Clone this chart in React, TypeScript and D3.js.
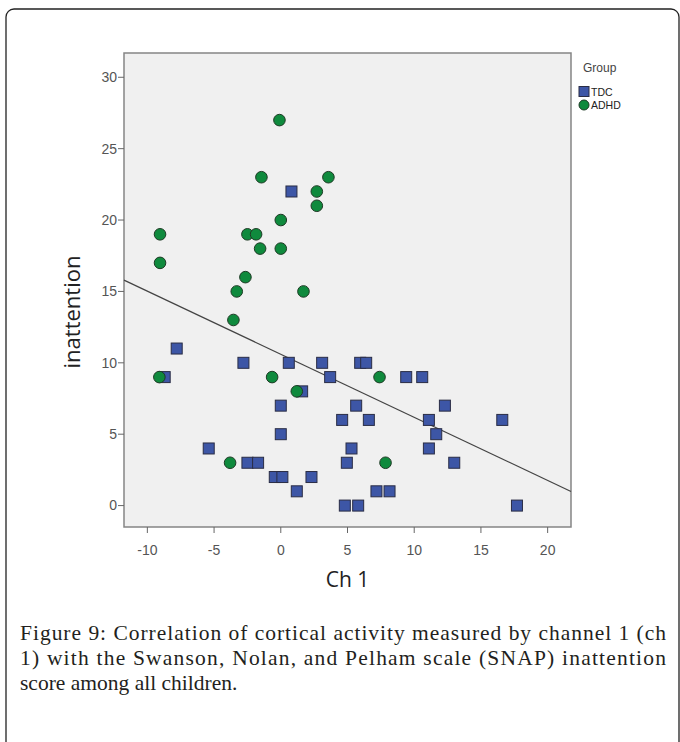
import React from "react";
import * as d3 from "d3";

const xTicks = [-10, -5, 0, 5, 10, 15, 20];
const yTicks = [0, 5, 10, 15, 20, 25, 30];

const tdcX = [0.8, -7.8, -2.8, 0.6, 3.1, 5.95, 6.4, -8.7, 3.7, 9.4, 10.6, 1.6, 0, 5.65, 12.3, 4.6, 6.6, 11.1, 16.6, 0, 11.65, -5.4, 5.3, 11.1, -2.5, -1.7, 4.95, 13.0, -0.45, 0.12, 2.3, 1.2, 7.17, 8.15, 4.8, 5.8, 17.7];
const tdcY = [22, 11, 10, 10, 10, 10, 10, 9, 9, 9, 9, 8, 7, 7, 7, 6, 6, 6, 6, 5, 5, 4, 4, 4, 3, 3, 3, 3, 2, 2, 2, 1, 1, 1, 0, 0, 0];

const adhdX = [-0.1, -1.45, 3.57, 2.7, 2.7, 0, -9.05, -2.5, -1.85, -1.55, 0, -9.05, -2.65, -3.3, 1.7, -3.55, -9.1, -0.65, 1.2, 7.4, -3.8, 7.85];
const adhdY = [27, 23, 23, 22, 21, 20, 19, 19, 19, 18, 18, 17, 16, 15, 15, 13, 9, 9, 8, 9, 3, 3];

const fitIntercept = 10.6;
const fitSlope = -0.442;

const groups = ["TDC", "ADHD"];

const captionLines = [
  "Figure 9: Correlation of cortical activity measured by channel 1 (ch",
  "1) with the Swanson, Nolan, and Pelham scale (SNAP) inattention",
  "score among all children.",
];

export default function App() {
  const W = 680, H = 742;
  const left = 124, right = 571, top = 53, bottom = 527;
  const x = d3.scaleLinear().domain([-11.75, 21.75]).range([left, right]);
  const y = d3.scaleLinear().domain([-1.5, 31.7]).range([bottom, top]);
  const blue = "#3d56a6";
  const green = "#0f8a3d";
  const sq = 11;
  const xd = x.domain();
  const line = d3.line<number>().x((v) => x(v)).y((v) => y(fitIntercept + fitSlope * v));
  const sans = "'Liberation Sans', Arial, sans-serif";
  return (
    <svg width={W} height={H} style={{ position: "absolute", left: 0, top: 0 }}>
      <rect x={0} y={0} width={W} height={H} fill="#fff" />
      <rect x={6} y={9} width={673} height={760} rx={8} fill="none" stroke="#222" strokeWidth={1.3} />
      <rect x={left} y={top} width={right - left} height={bottom - top} fill="#f0f0f0" stroke="#858585" strokeWidth={1.5} />
      {yTicks.map((t) => (
        <g key={"y" + t}>
          <line x1={left - 6} x2={left} y1={y(t)} y2={y(t)} stroke="#666" strokeWidth={1} />
          <text x={left - 7} y={y(t)} dy="0.35em" textAnchor="end" fontFamily={sans} fontSize={14} fill="#555">{t}</text>
        </g>
      ))}
      {xTicks.map((t) => (
        <g key={"x" + t}>
          <line x1={x(t)} x2={x(t)} y1={bottom} y2={bottom + 6} stroke="#666" strokeWidth={1} />
          <text x={x(t)} y={bottom + 23} dy="0.35em" textAnchor="middle" fontFamily={sans} fontSize={14} fill="#555">{t}</text>
        </g>
      ))}
      <path d={line([xd[0], xd[1]]) || ""} stroke="#444" strokeWidth={1.2} fill="none" />
      {tdcX.map((v, i) => (
        <rect key={"t" + i} x={x(v) - sq / 2} y={y(tdcY[i]) - sq / 2} width={sq} height={sq} fill={blue} stroke="#2a2d45" strokeWidth={1} />
      ))}
      {adhdX.map((v, i) => (
        <circle key={"a" + i} cx={x(v)} cy={y(adhdY[i])} r={5.8} fill={green} stroke="#1d3a24" strokeWidth={1} />
      ))}
      <text x={72} y={312} transform="rotate(-90 72 312)" textAnchor="middle" dy="0.35em" fontFamily="'Open Sans', sans-serif" fontSize={22} fill="#222">inattention</text>
      <text x={(left + right) / 2} y={580} textAnchor="middle" dy="0.35em" fontFamily="'Open Sans', sans-serif" fontSize={21} fill="#222">Ch 1</text>
      <text x={583} y={68} dy="0.35em" fontFamily={sans} fontSize={12} fill="#444">Group</text>
      {groups.map((g, i) => (
        <g key={g}>
          {i === 0 ? (
            <rect x={579} y={86.5} width={10} height={10} fill={blue} stroke="#2a2d45" strokeWidth={1} />
          ) : (
            <circle cx={584} cy={105} r={5} fill={green} stroke="#1d3a24" strokeWidth={1} />
          )}
          <text x={591} y={92 + i * 13} dy="0.35em" fontFamily={sans} fontSize={10.5} fill="#222">{g}</text>
        </g>
      ))}
      {captionLines.map((l, i) => (
        <text key={i} x={20} y={640 + i * 25} fontFamily="'Liberation Serif', 'Times New Roman', serif" fontSize={21.5} fill="#231f20"
          {...(i < 2 ? { textLength: 646, lengthAdjust: "spacing" } : {})}>{l}</text>
      ))}
    </svg>
  );
}
